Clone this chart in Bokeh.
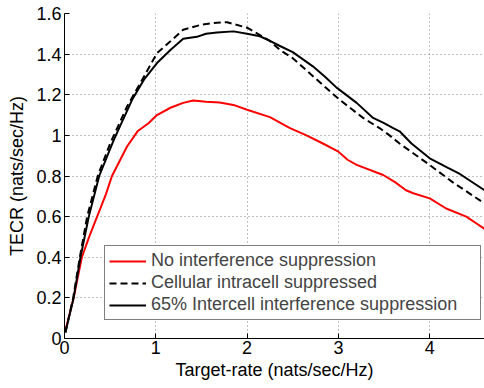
from bokeh.plotting import figure
from bokeh.models import Range1d, FixedTicker
from bokeh.embed import file_html
from bokeh.resources import INLINE

# ---- data ----
red_x = [0.01, 0.10, 0.19, 0.27, 0.357, 0.45, 0.52, 0.685, 0.80, 0.92, 1.013, 1.16, 1.30, 1.41, 1.55,
         1.70, 1.85, 2.0, 2.25, 2.47, 2.65, 2.83, 3.0, 3.1, 3.2, 3.49, 3.62, 3.74, 3.82, 4.0, 4.18,
         4.40, 4.5, 4.6]
red_y = [0.04, 0.2, 0.4, 0.5, 0.6, 0.706, 0.8, 0.945, 1.02, 1.06, 1.10, 1.136, 1.16, 1.172, 1.165,
         1.162, 1.15, 1.126, 1.09, 1.036, 1.0, 0.96, 0.92, 0.88, 0.855, 0.805, 0.77, 0.73, 0.715, 0.69,
         0.64, 0.60, 0.57, 0.54]

dash_x = [0.01, 0.095, 0.168, 0.248, 0.364, 0.50, 0.685, 0.83, 1.013, 1.16, 1.30, 1.5, 1.67, 1.78,
          2.0, 2.25, 2.36, 2.5, 2.65, 3.0, 3.27, 3.45, 3.56, 3.67, 4.0, 4.25, 4.55, 4.6]
dash_y = [0.03, 0.2, 0.4, 0.6, 0.8, 0.96, 1.142, 1.257, 1.405, 1.463, 1.52, 1.545, 1.555, 1.557,
          1.53, 1.465, 1.42, 1.38, 1.32, 1.18, 1.086, 1.036, 1.0, 0.96, 0.854, 0.77, 0.68, 0.665]

solid_x = [0.01, 0.10, 0.175, 0.266, 0.38, 0.54, 0.74, 0.87, 1.013, 1.16, 1.30, 1.45, 1.55, 1.67,
           1.85, 2.0, 2.14, 2.25, 2.36, 2.5, 2.72, 2.85, 2.98, 3.2, 3.38, 3.5, 3.6, 3.67, 3.80, 4.0,
           4.2, 4.33, 4.6]
solid_y = [0.03, 0.2, 0.4, 0.6, 0.8, 0.978, 1.175, 1.274, 1.356, 1.42, 1.476, 1.485, 1.50, 1.507,
           1.512, 1.50, 1.488, 1.465, 1.44, 1.41, 1.34, 1.29, 1.235, 1.16, 1.086, 1.06, 1.036, 1.02,
           0.96, 0.887, 0.84, 0.81, 0.73]

series_names = ["No interference suppression",
                "Cellular intracell suppressed",
                "65% Intercell interference suppression"]

x_ticks = [0, 1, 2, 3, 4]
y_ticks = [0, 0.2, 0.4, 0.6, 0.8, 1, 1.2, 1.4, 1.6]
y_tick_labels = ["0", "0.2", "0.4", "0.6", "0.8", "1", "1.2", "1.4", "1.6"]

FONT = "Liberation Sans"
FS = "18px"

p = figure(width=484, height=388, output_backend="svg", toolbar_location=None,
           x_range=Range1d(0, 4.6), y_range=Range1d(0, 1.6),
           min_border_left=64, min_border_top=13, min_border_bottom=50, min_border_right=0)
p.outline_line_color = None
p.background_fill_color = "white"

p.line(red_x, red_y, line_color="#ff0000", line_width=2, legend_label=series_names[0])
p.line(dash_x, dash_y, line_color="black", line_width=2, line_dash="7 4", legend_label=series_names[1])
p.line(solid_x, solid_y, line_color="black", line_width=2, legend_label=series_names[2])

p.xaxis.ticker = FixedTicker(ticks=x_ticks)
p.yaxis.ticker = FixedTicker(ticks=y_ticks)
p.yaxis.major_label_overrides = {t: l for t, l in zip(y_ticks, y_tick_labels)}

p.xaxis.axis_label = "Target-rate (nats/sec/Hz)"
p.yaxis.axis_label = "TECR (nats/sec/Hz)"
for ax in (p.xaxis, p.yaxis):
    ax.axis_label_text_font = FONT
    ax.axis_label_text_font_size = FS
    ax.axis_label_text_font_style = "normal"
    ax.axis_label_text_color = "black"
    ax.major_label_text_font = FONT
    ax.major_label_text_font_size = FS
    ax.major_label_text_color = "black"
    ax.axis_line_color = "black"
    ax.axis_line_width = 1
    ax.major_tick_in = 5
    ax.major_tick_out = 0
    ax.major_tick_line_color = "black"
    ax.minor_tick_line_color = None
p.xaxis.major_label_standoff = 2
p.xaxis.axis_label_standoff = 3
p.yaxis.major_label_standoff = 3
p.yaxis.axis_label_standoff = 6

for g in (p.xgrid, p.ygrid):
    g.grid_line_color = "#808080"
    g.grid_line_dash = "1 3"
    g.grid_line_width = 1

lg = p.legend[0]
lg.location = (40, 18)
lg.label_text_font = FONT
lg.label_text_font_size = FS
lg.glyph_width = 37
lg.glyph_height = 20
lg.label_height = 20
lg.label_width = 325
lg.label_standoff = 5
lg.spacing = 1
lg.padding = 4
lg.margin = 0
lg.border_line_color = "black"
lg.border_line_width = 1
lg.background_fill_alpha = 1

open("out.html", "w").write(file_html(p, INLINE))
